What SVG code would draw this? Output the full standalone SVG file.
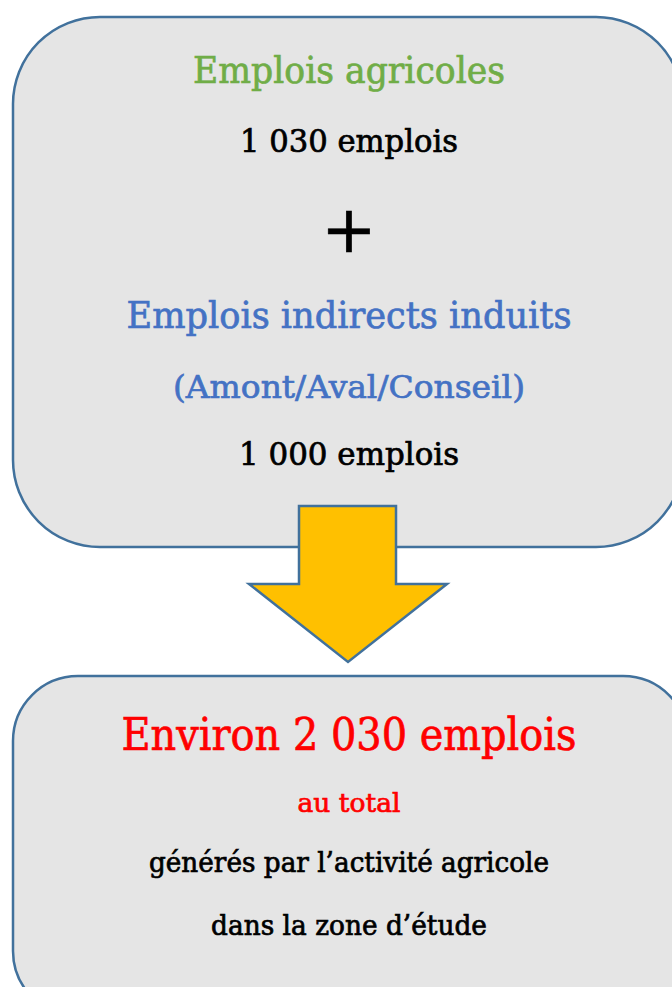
<svg xmlns="http://www.w3.org/2000/svg" width="672" height="987" viewBox="0 0 672 987">
<style>
.box{fill:#E5E5E5;stroke:#41719C;stroke-width:2.5}
.arrow{fill:#FFC000;stroke:#41719C;stroke-width:2.5;stroke-linejoin:miter}
text{font-family:"DejaVu Serif","Liberation Serif",serif;text-anchor:middle;stroke-width:0.7}
.g{fill:#70AD47;stroke:#70AD47}
.b{fill:#4472C4;stroke:#4472C4}
.k{fill:#000000;stroke:#000000}
.r{fill:#FF0000;stroke:#FF0000}
</style>
<rect width="672" height="987" fill="#FFFFFF"/>
<g id="top-box">
<rect class="box" x="13" y="17" width="670" height="530" rx="87" ry="87"/>
<text class="g" x="349" y="83" font-size="37" textLength="312" lengthAdjust="spacingAndGlyphs">Emplois agricoles</text>
<text class="k" x="349" y="152" font-size="31" textLength="218" lengthAdjust="spacingAndGlyphs">1 030 emplois</text>
<text class="k" x="349" y="252" font-size="66" stroke-width="1.6" font-family="Liberation Sans, sans-serif">+</text>
<text class="b" x="349" y="328" font-size="37" textLength="445" lengthAdjust="spacingAndGlyphs">Emplois indirects induits</text>
<text class="b" x="349" y="398" font-size="32" textLength="352" lengthAdjust="spacingAndGlyphs">(Amont/Aval/Conseil)</text>
<text class="k" x="349" y="465" font-size="31" textLength="220" lengthAdjust="spacingAndGlyphs">1 000 emplois</text>
</g>
<g id="connectors">
<polygon class="arrow" points="299,506 396,506 396,584 447,584 348,662 249,584 299,584"/>
</g>
<g id="bottom-box">
<rect class="box" x="13" y="676" width="675" height="340" rx="65" ry="65"/>
<text class="r" x="349" y="750" font-size="44" stroke-width="1" textLength="455" lengthAdjust="spacingAndGlyphs">Environ 2 030 emplois</text>
<text class="r" x="349" y="812" font-size="26" stroke-width="0.15" textLength="103" lengthAdjust="spacingAndGlyphs">au total</text>
<text class="k" x="349" y="872" font-size="27" stroke-width="0.15" textLength="400" lengthAdjust="spacingAndGlyphs">générés par l’activité agricole</text>
<text class="k" x="349" y="935" font-size="27" stroke-width="0.15" textLength="276" lengthAdjust="spacingAndGlyphs">dans la zone d’étude</text>
</g>
</svg>
